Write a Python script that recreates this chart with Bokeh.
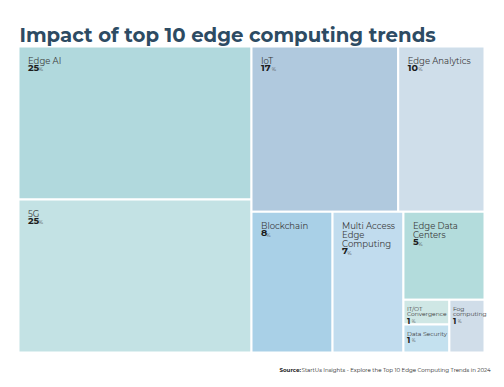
from bokeh.plotting import figure
from bokeh.models import Range1d
from bokeh.core.properties import value
from bokeh.embed import file_html
from bokeh.resources import INLINE

# ---- data ----
names = ["Edge AI", "5G", "IoT", "Edge Analytics", "Blockchain",
         "Multi Access\nEdge\nComputing", "Edge Data\nCenters",
         "IT/OT\nConvergence", "Data Security", "Fog\ncomputing"]
percents = [25, 25, 17, 10, 8, 7, 5, 1, 1, 1]          # shown labels
sizes = [25, 25, 17, 10, 8, 7, 5, 0.8, 0.9, 1.3]        # area estimates
colors = ["#b1d9dd", "#c3e2e4", "#b0c9de", "#cfdeea", "#a9d0e7",
          "#c1dcee", "#b3dcdc", "#cfe7e5", "#c4e1ef", "#d0dde9"]
# nesting of the slice-and-dice layout (h = side by side, v = stacked)
tree = ("h", [("v", [0, 1]),
              ("v", [("h", [2, 3]),
                     ("h", [4, 5, ("v", [6, ("h", [("v", [7, 8]), 9])])])])])

title_text = "Impact of top 10 edge computing trends"
source_bold = "Source:"
source_rest = "StartUs Insights - Explore the Top 10 Edge Computing Trends in 2024"

FONT = "Montserrat, Open Sans"
W, H = 496, 379
X0, Y0, X1, Y1 = 18, 46, 484, 352


def node_size(n):
    if isinstance(n, int):
        return sizes[n]
    return sum(node_size(c) for c in n[1])


def layout(n, x0, y0, x1, y1, out):
    if isinstance(n, int):
        out[n] = (x0, y0, x1, y1)
        return
    orient, kids = n
    tot = sum(node_size(c) for c in kids)
    pos = x0 if orient == "h" else y0
    for c in kids:
        f = node_size(c) / tot
        if orient == "h":
            w = (x1 - x0) * f
            layout(c, pos, y0, pos + w, y1, out)
            pos += w
        else:
            h = (y1 - y0) * f
            layout(c, x0, pos, x1, pos + h, out)
            pos += h


rects = {}
layout(tree, X0, Y0, X1, Y1, rects)
idx = list(range(len(names)))
L = [rects[i][0] for i in idx]
T = [rects[i][1] for i in idx]
R = [rects[i][2] for i in idx]
B = [rects[i][3] for i in idx]

p = figure(width=W, height=H, output_backend="svg", toolbar_location=None,
           x_range=Range1d(0, W), y_range=Range1d(H, 0), min_border=0)
p.axis.visible = False
p.grid.visible = False
p.outline_line_color = None
p.background_fill_color = "white"
p.border_fill_color = "white"

p.quad(left=L, right=R, top=T, bottom=B, fill_color=colors,
       line_color="white", line_width=2)

# labels (one text item per line)
nx, ny, ntext, nsize = [], [], [], []
vx, vy, vtext, vsize = [], [], [], []
px, py, psize = [], [], []
for i in idx:
    small = (R[i] - L[i]) < 60
    off = 3.5 if small else 9.5
    offy = 5 if small else 9
    fs = 6 if small else 8.5
    lh = 5.7 if small else 9
    vs = 8.5 if small else 9.5
    lines = names[i].split("\n")
    for k, ln in enumerate(lines):
        nx.append(L[i] + off)
        ny.append(T[i] + offy + k * lh)
        ntext.append(ln)
        nsize.append(f"{fs}px")
    ytop = T[i] + offy + len(lines) * lh + (1.5 if small else 0.5)
    vx.append(L[i] + off)
    vy.append(ytop)
    vtext.append(str(percents[i]))
    vsize.append(f"{vs}px")
    px.append(L[i] + off + len(str(percents[i])) * vs * 0.56)
    py.append(ytop + vs * 0.78)
    psize.append(f"{vs * 0.55}px")

p.text(x=nx, y=ny, text=ntext, text_font=value(FONT), text_font_size=nsize,
       text_color="#3a3a3a", text_baseline="top")
p.text(x=vx, y=vy, text=vtext, text_font=value(FONT), text_font_size=vsize,
       text_color="#1c1c1c", text_font_style="bold", text_baseline="top")
p.text(x=px, y=py, text=["%"] * len(idx), text_font=value(FONT),
       text_font_size=psize, text_color="#555555", text_baseline="bottom")

# title
p.text(x=[X0 + 1], y=[34], text=[title_text], text_font=value(FONT),
       text_font_size="19.7px", text_font_style="bold", text_color="#2d4b63",
       text_baseline="alphabetic")

# source
p.text(x=[279], y=[369], text=[source_bold], text_font=value(FONT),
       text_font_size="5.5px", text_font_style="bold", text_color="#222222",
       text_baseline="middle")
p.text(x=[301], y=[369], text=[source_rest], text_font=value(FONT),
       text_font_size="5.5px", text_color="#222222", text_baseline="middle")

open("out.html", "w").write(file_html(p, INLINE))
